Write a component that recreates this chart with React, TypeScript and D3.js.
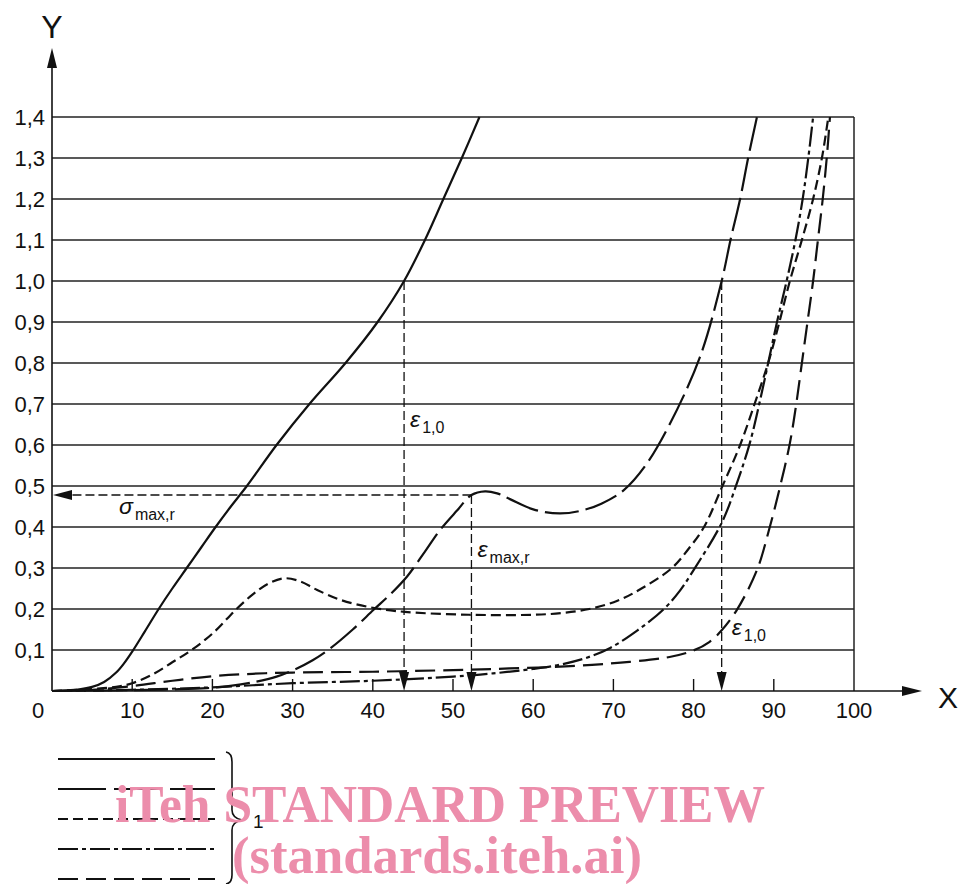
import React from 'react';
import * as d3 from 'd3';

// axis tick values
const xTickLabels = [0, 10, 20, 30, 40, 50, 60, 70, 80, 90, 100];
const yTicks = [0.1, 0.2, 0.3, 0.4, 0.5, 0.6, 0.7, 0.8, 0.9, 1.0, 1.1, 1.2, 1.3, 1.4];

// curves, [strain, stress]
const solidCurve: [number, number][] = [
  [0, 0], [3, 0.003], [5, 0.01], [6.5, 0.022], [8, 0.045], [9, 0.068], [10, 0.096],
  [11.6, 0.146], [13.3, 0.2], [15, 0.25], [16.8, 0.3], [18.6, 0.35], [20.4, 0.4], [22.3, 0.45],
  [24.3, 0.5], [28, 0.6], [32.1, 0.7], [36.6, 0.8], [40.6, 0.9], [43.9, 1.0], [46.5, 1.1],
  [48.8, 1.2], [51.1, 1.3], [53.3, 1.4]
];
const longShortCurve: [number, number][] = [
  [0, 0], [10, 0.002], [15, 0.004], [19.3, 0.007], [22, 0.012], [25.5, 0.023], [28, 0.035],
  [30.1, 0.051], [32.5, 0.075], [34.7, 0.104], [37.5, 0.15], [40.1, 0.198], [42.3, 0.238],
  [44.3, 0.28], [46.5, 0.34], [48.4, 0.393], [50.5, 0.44], [52.3, 0.478], [54, 0.487],
  [55.5, 0.482], [57.1, 0.468], [60, 0.443], [63.3, 0.433], [66, 0.44], [68.5, 0.457],
  [71.3, 0.49], [74, 0.55], [77, 0.65], [80.8, 0.815], [83.5, 1.0], [84.6, 1.1],
  [85.8, 1.2], [86.8, 1.3], [87.9, 1.4]
];
const shortDashCurve: [number, number][] = [
  [0, 0], [5, 0.005], [8, 0.01], [10, 0.019], [12.5, 0.04], [15, 0.07], [17.4, 0.1], [20, 0.14],
  [23, 0.2], [25, 0.235], [27, 0.262], [29, 0.275], [31, 0.267], [33, 0.247], [36, 0.222],
  [40, 0.203], [44, 0.193], [52, 0.186], [60, 0.186], [63.5, 0.19], [67, 0.2], [70.5, 0.22],
  [73.5, 0.25], [77.3, 0.3], [79.5, 0.35], [81.3, 0.4], [83.6, 0.5], [85.8, 0.6], [87.6, 0.7],
  [89.3, 0.8], [90.7, 0.9], [92, 1.0], [93.5, 1.1], [94.9, 1.2], [96, 1.3], [96.8, 1.4]
];
const dashDotCurve: [number, number][] = [
  [0, 0], [10, 0.003], [20, 0.009], [30, 0.019], [40, 0.025], [50, 0.035], [55, 0.043],
  [60, 0.054], [63.3, 0.064], [66.5, 0.08], [69.6, 0.105], [73, 0.148], [76.2, 0.198],
  [78.3, 0.245], [80, 0.295], [83.5, 0.41], [85.4, 0.507], [87, 0.604], [88.3, 0.71],
  [89.3, 0.8], [90.4, 0.9], [91.6, 1.0], [92.7, 1.1], [93.6, 1.2], [94.3, 1.3], [94.9, 1.4]
];
const longDashCurve: [number, number][] = [
  [0, 0], [5, 0.003], [10, 0.012], [15, 0.025], [20, 0.036], [25, 0.042], [30, 0.045],
  [40, 0.047], [50, 0.051], [57, 0.055], [64, 0.06], [72, 0.071], [77, 0.083], [80, 0.099],
  [82, 0.12], [83.5, 0.148], [85.4, 0.198], [87.9, 0.295], [89.5, 0.4], [90.8, 0.5], [92, 0.604],
  [92.8, 0.7], [93.5, 0.8], [94.2, 0.9], [94.9, 1.0], [95.5, 1.1], [96.1, 1.2], [96.6, 1.3],
  [97, 1.4]
];

// reference markers: [strain, stress]
const eps10Left: [number, number] = [43.9, 1.0];
const epsMax: [number, number] = [52.3, 0.478];
const eps10Right: [number, number] = [83.5, 1.0];

const font = "'Liberation Sans', Arial, sans-serif";

const x = d3.scaleLinear().domain([0, 100]).range([52, 854]);
const y = d3.scaleLinear().domain([0, 1.4]).range([691, 117]);

const line = d3.line<[number, number]>()
  .x(d => x(d[0]))
  .y(d => y(d[1]))
  .curve(d3.curveCatmullRom.alpha(0.5));

const curves = [
  { data: solidCurve, dash: undefined },
  { data: longShortCurve, dash: '34,7' },
  { data: shortDashCurve, dash: '10,5' },
  { data: dashDotCurve, dash: '20,4,4,4' },
  { data: longDashCurve, dash: '20,8' }
];

const legendDash = [undefined, '48,8', '10,5', '20,4,4,4', '20,8'];

function DownArrow({ v }: { v: [number, number] }) {
  const px = x(v[0]);
  return (
    <g>
      <line x1={px} x2={px} y1={y(v[1])} y2={y(0) - 6} stroke="#111" strokeWidth={1.3} strokeDasharray="9,4" />
      <path d={`M${px},${y(0)} L${px - 5},${y(0) - 19} L${px + 5},${y(0) - 19} Z`} fill="#111" />
    </g>
  );
}

function Eps({ px, py, sub, sym = 'ε' }: { px: number; py: number; sub: string; sym?: string }) {
  return (
    <text x={px} y={py} fontFamily={font} fontSize={23} fill="#111">
      <tspan fontStyle="italic">{sym}</tspan>
      <tspan fontSize={16} dx={2} dy={6}>{sub}</tspan>
    </text>
  );
}

export default function App() {
  const x0 = x(0);
  const y0 = y(0);
  return (
    <svg width={964} height={884} style={{ position: 'absolute', left: 0, top: 0, background: '#fff' }}>
      {/* grid */}
      {yTicks.map(t => (
        <line key={t} x1={x0} x2={x(100)} y1={y(t)} y2={y(t)} stroke="#222" strokeWidth={1.5} />
      ))}
      <line x1={x(100)} x2={x(100)} y1={y(1.4)} y2={y0} stroke="#222" strokeWidth={1.5} />

      {/* axes */}
      <line x1={x0} x2={x0} y1={y0} y2={62} stroke="#111" strokeWidth={1.6} />
      <path d={`M${x0},48 L${x0 - 5},68 L${x0 + 5},68 Z`} fill="#111" />
      <line x1={x0} x2={908} y1={y0} y2={y0} stroke="#111" strokeWidth={1.6} />
      <path d={`M922,${y0} L902,${y0 - 5} L902,${y0 + 5} Z`} fill="#111" />
      {xTickLabels.filter(t => t > 0 && t < 100).map(t => (
        <line key={t} x1={x(t)} x2={x(t)} y1={y0} y2={y0 - 12} stroke="#111" strokeWidth={1.4} />
      ))}

      {/* tick labels */}
      {yTicks.map(t => (
        <text key={t} x={45} y={y(t) + 8} textAnchor="end" fontFamily={font} fontSize={22} fill="#111">
          {t.toFixed(1).replace('.', ',')}
        </text>
      ))}
      {xTickLabels.map(t => (
        <text key={t} x={t === 0 ? 38 : x(t)} y={718} textAnchor="middle" fontFamily={font} fontSize={22} fill="#111">
          {t}
        </text>
      ))}
      <text x={x0} y={38} textAnchor="middle" fontFamily={font} fontSize={32} fill="#111">Y</text>
      <text x={948} y={708} textAnchor="middle" fontFamily={font} fontSize={30} fill="#111">X</text>

      {/* curves */}
      {curves.map((c, i) => (
        <path key={i} d={line(c.data) || ''} fill="none" stroke="#111" strokeWidth={2.2}
          strokeDasharray={c.dash} />
      ))}

      {/* reference lines */}
      <DownArrow v={eps10Left} />
      <DownArrow v={epsMax} />
      <DownArrow v={eps10Right} />
      <line x1={x(epsMax[0])} x2={x0 + 14} y1={y(epsMax[1])} y2={y(epsMax[1])} stroke="#111" strokeWidth={1.3} strokeDasharray="9,4" />
      <path d={`M${x0 + 1},${y(epsMax[1])} L${x0 + 20},${y(epsMax[1]) - 5} L${x0 + 20},${y(epsMax[1]) + 5} Z`} fill="#111" />

      <Eps px={x(eps10Left[0]) + 6} py={427} sub="1,0" />
      <Eps px={x(epsMax[0]) + 6} py={557} sub="max,r" />
      <Eps px={x(eps10Right[0]) + 10} py={635} sub="1,0" />
      <Eps px={119} py={514} sub="max,r" sym="σ" />

      {/* legend */}
      {legendDash.map((d, i) => (
        <line key={i} x1={58} x2={215} y1={759 + i * 30} y2={759 + i * 30} stroke="#111" strokeWidth={2.2} strokeDasharray={d} />
      ))}
      <path d="M226,752 Q232,753 232,762 L232,810 Q232,818 242,820 Q232,822 232,830 L232,875 Q232,883 226,884"
        fill="none" stroke="#111" strokeWidth={1.6} />
      <text x={253} y={828} fontFamily={font} fontSize={19} fill="#111">1</text>

      {/* watermark */}
      <text x={115} y={822} textLength={650} lengthAdjust="spacingAndGlyphs" fontFamily="'Liberation Serif', 'Times New Roman', serif"
        fontWeight="bold" fontSize={52} fill="#ec8dab">iTeh STANDARD PREVIEW</text>
      <text x={232} y={873} textLength={410} lengthAdjust="spacingAndGlyphs" fontFamily="'Liberation Serif', 'Times New Roman', serif"
        fontWeight="bold" fontSize={52} fill="#ec8dab">(standards.iteh.ai)</text>
    </svg>
  );
}
